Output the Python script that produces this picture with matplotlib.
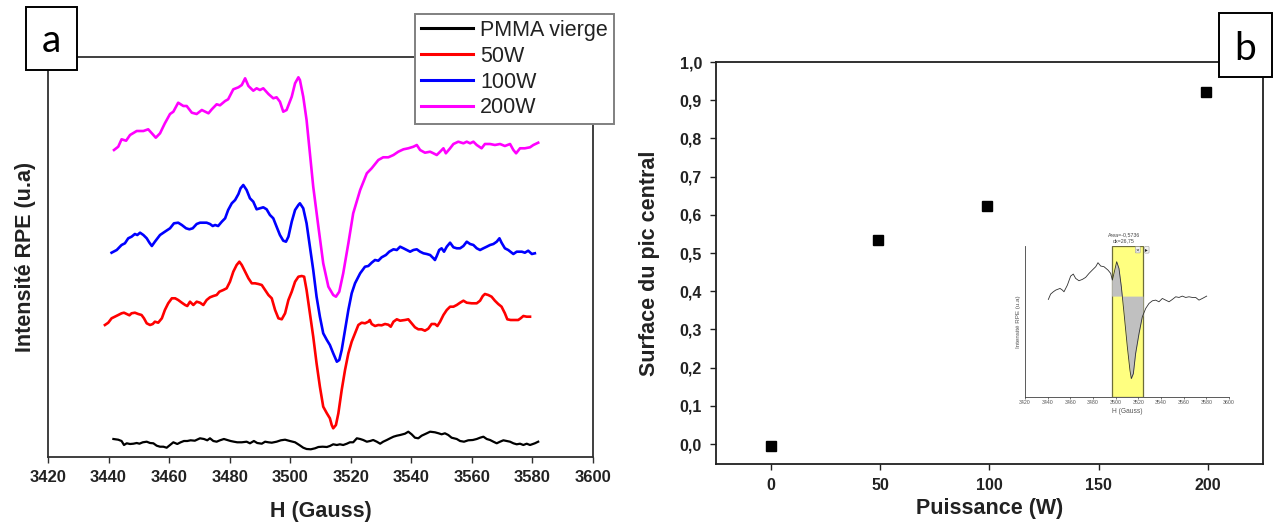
import numpy as np
import matplotlib
matplotlib.use("Agg")
import matplotlib.pyplot as plt
from matplotlib.patches import Rectangle

plt.rcParams['font.family'] = ['Liberation Sans', 'DejaVu Sans']

# ---------------- data: panel a (EPR spectra) ----------------
h200 = [3441.8, 3443.2, 3444.3, 3445.8, 3447.1, 3449.3, 3451.5, 3453.1, 3454.3, 3455.6,
        3457.0, 3458.6, 3460.3, 3461.4, 3463.0, 3464.7, 3465.8, 3467.5, 3469.1, 3470.8,
        3473.0, 3474.1, 3475.7, 3476.8, 3478.5, 3479.5, 3481.2, 3482.9, 3484.0, 3485.1,
        3486.2, 3487.8, 3488.9, 3490.0, 3491.1, 3492.8, 3494.4, 3495.5, 3496.6, 3497.7,
        3498.8, 3500.5, 3501.6, 3502.7, 3503.2, 3504.3, 3505.4, 3506.5, 3507.6, 3509.3,
        3510.9, 3512.6, 3514.2, 3515.1, 3516.2, 3517.5, 3519.2, 3520.8, 3523.1, 3525.3,
        3526.9, 3529.1, 3530.7, 3532.4, 3534.1, 3535.7, 3537.4, 3539.0, 3540.7, 3541.8,
        3542.9, 3544.5, 3546.2, 3547.3, 3548.4, 3549.5, 3550.6, 3551.4, 3552.8, 3553.9,
        3555.5, 3557.2, 3558.3, 3559.4, 3560.5, 3561.6, 3563.2, 3564.3, 3566.0, 3567.6,
        3569.3, 3570.9, 3572.6, 3573.7, 3574.6, 3575.9, 3577.5, 3579.2, 3580.3, 3581.9]
i200 = [307, 310.3, 317.7, 316.3, 322, 326, 326, 327.7, 323.7, 319.3,
        323.7, 333.7, 343, 345.3, 354.3, 351, 351, 344.3, 343, 347,
        343.7, 347.7, 352.7, 351.7, 356, 357.7, 367.7, 369.7, 372, 378.7,
        371, 366.3, 368.7, 367, 368.7, 363, 358.7, 359.7, 355.3, 345.3,
        347, 360.3, 373.7, 379.7, 377, 360.3, 337, 303.7, 270.3, 230.3,
        193.7, 170.3, 162, 160.3, 165.3, 183.7, 213.7, 243.7, 267, 283.7,
        288.7, 297, 299.7, 299.7, 302, 305.3, 307.7, 308.7, 310.3, 312,
        307, 304.3, 305.3, 303.7, 302, 305.3, 308.7, 303.7, 308.7, 313,
        315.3, 313.7, 315.3, 313.7, 315.3, 312, 308.7, 313, 313, 312,
        313, 311, 313, 307, 303.7, 308.7, 308.7, 309.7, 312, 314.3]

h100 = [3441.0, 3442.7, 3444.3, 3445.4, 3446.5, 3447.6, 3448.7, 3449.5, 3450.4, 3451.5,
        3452.6, 3453.5, 3454.3, 3455.3, 3457.0, 3458.6, 3460.3, 3461.6, 3463.0, 3464.2,
        3465.6, 3466.7, 3467.8, 3469.1, 3470.2, 3472.4, 3473.5, 3474.4, 3475.2, 3476.2,
        3477.4, 3478.5, 3479.5, 3480.7, 3481.8, 3482.9, 3483.6, 3484.5, 3485.6, 3486.7,
        3487.8, 3488.9, 3490.0, 3491.1, 3492.2, 3493.3, 3494.4, 3495.5, 3496.6, 3497.7,
        3498.6, 3499.4, 3500.5, 3501.6, 3502.7, 3503.2, 3504.3, 3505.4, 3506.5, 3507.6,
        3508.7, 3509.8, 3510.9, 3512.1, 3513.1, 3514.2, 3515.4, 3516.2, 3517.0, 3518.1,
        3519.2, 3520.3, 3521.4, 3523.1, 3524.7, 3525.8, 3526.9, 3528.0, 3529.1, 3530.2,
        3531.6, 3532.7, 3534.1, 3535.2, 3536.3, 3537.4, 3538.5, 3539.6, 3540.7, 3541.8,
        3542.9, 3544.0, 3545.1, 3546.2, 3547.3, 3547.8, 3548.4, 3549.2, 3550.0, 3550.8,
        3551.7, 3552.8, 3553.9, 3555.0, 3556.1, 3557.2, 3558.3, 3559.4, 3560.5, 3561.6,
        3562.7, 3563.8, 3564.9, 3566.0, 3567.1, 3568.2, 3569.1, 3569.8, 3570.9, 3572.0,
        3573.7, 3574.8, 3576.5, 3577.5, 3578.6, 3579.8, 3580.8]
i100 = [204.3, 207, 212, 213.7, 218.7, 220.3, 223, 222, 224.3, 222,
        218.7, 214.3, 211, 215.3, 222, 225.3, 228.7, 233.7, 234.3, 232,
        228.7, 227.7, 228.7, 233, 234.3, 234.3, 233, 231, 232, 231,
        235.3, 238.7, 247, 253.7, 257, 263, 268.7, 272, 267, 258.7,
        255.3, 247.7, 248.7, 249.7, 247.7, 242, 238.7, 230.3, 222, 216.3,
        215.3, 220.3, 235.3, 247, 252, 253.7, 248.7, 233.7, 210.3, 187,
        160.3, 140.3, 123.7, 117, 112, 103.7, 95.3, 97, 107, 127,
        147, 163.7, 173.7, 183.7, 190.3, 191, 194.3, 197, 196.3, 199.7,
        202, 205.3, 207.7, 207, 210.3, 208.7, 207, 205.3, 207, 207.7,
        205.3, 203.7, 203, 202, 198.7, 197, 201, 207, 208.7, 205.3,
        210.3, 214.3, 209.7, 208.7, 208.7, 211, 215.3, 213, 212, 208.7,
        207, 208.7, 210.3, 212, 213, 215.3, 218.7, 214.3, 208.7, 207,
        203, 205.3, 205.3, 204.3, 206.3, 203, 203.7]

h50 = [3438.8, 3439.9, 3441.0, 3442.1, 3443.2, 3444.3, 3445.1, 3446.0, 3446.9, 3447.6,
       3448.7, 3449.8, 3450.9, 3451.7, 3452.6, 3453.7, 3454.6, 3455.3, 3456.4, 3457.6,
       3458.6, 3459.7, 3460.9, 3462.0, 3463.0, 3464.2, 3465.3, 3466.0, 3466.9, 3468.0,
       3469.1, 3470.2, 3471.3, 3472.4, 3473.5, 3474.6, 3475.7, 3476.6, 3477.9, 3479.0,
       3480.1, 3481.2, 3482.3, 3483.2, 3484.0, 3485.1, 3486.2, 3487.3, 3488.4, 3489.5,
       3490.6, 3491.7, 3492.8, 3493.9, 3495.0, 3496.1, 3497.2, 3498.3, 3499.4, 3500.5,
       3501.6, 3502.7, 3503.8, 3504.6, 3505.4, 3506.5, 3507.6, 3508.7, 3509.8, 3510.9,
       3512.1, 3513.1, 3513.7, 3514.2, 3515.1, 3515.9, 3517.0, 3518.1, 3519.2, 3520.3,
       3521.4, 3522.5, 3523.6, 3524.7, 3525.8, 3526.3, 3526.9, 3528.0, 3529.1, 3530.2,
       3531.3, 3532.4, 3533.2, 3534.1, 3535.2, 3536.3, 3537.9, 3539.0, 3540.1, 3541.2,
       3542.3, 3543.4, 3544.5, 3545.6, 3546.7, 3547.8, 3548.6, 3549.5, 3550.6, 3551.7,
       3552.8, 3553.9, 3555.0, 3556.1, 3557.2, 3558.3, 3559.9, 3561.6, 3562.7, 3563.6,
       3564.3, 3565.4, 3566.5, 3567.6, 3568.7, 3569.8, 3570.9, 3571.7, 3572.8, 3574.2,
       3575.3, 3576.1, 3577.0, 3578.1, 3579.2]
i50 = [132, 134.3, 138.7, 140.3, 142, 143.7, 144.3, 143, 141.7, 143.7,
       144.3, 143, 142, 138.7, 133.7, 132, 133, 135.3, 134.3, 138.7,
       147, 153.7, 158.7, 158.7, 157, 154.3, 152, 151, 155.3, 152,
       155.3, 154.3, 152, 157, 159.7, 161, 162, 165.3, 167, 168.7,
       175.3, 185.3, 192, 195.3, 192, 185.3, 178.7, 173.7, 173.7, 173,
       172, 167, 162, 158.7, 147, 138.7, 137.7, 143.7, 157, 165.3,
       175.3, 180.3, 181, 180.3, 167, 143.7, 120.3, 93.7, 70.3, 50.3,
       43.7, 38.7, 32, 28.7, 32, 43.7, 67, 87, 103.7, 115.3,
       123.7, 132, 134.3, 133.7, 135.3, 137, 133, 131, 132, 131.7,
       133, 132.3, 130.3, 135.3, 137.7, 136.3, 137, 137.7, 133.7, 129.7,
       127.7, 127.7, 126.3, 128.3, 133, 133, 131, 135.3, 142, 147,
       150.3, 150.3, 152, 154.3, 156.3, 154.3, 153.7, 153.7, 156.3, 161,
       163, 162, 160.3, 156.3, 153, 150.3, 143.7, 137.7, 137, 137,
       137, 138.7, 141, 140.3, 140.3]

h0 = [3441.6, 3443.2, 3444.3, 3445.1, 3446.0, 3447.1, 3448.2, 3449.3, 3450.2, 3451.3,
      3452.6, 3453.7, 3454.8, 3455.9, 3457.0, 3458.1, 3459.2, 3460.3, 3461.4, 3462.7,
      3463.8, 3464.9, 3466.0, 3467.1, 3468.5, 3470.2, 3471.5, 3472.6, 3473.5, 3474.6,
      3475.7, 3476.8, 3478.1, 3479.2, 3480.3, 3481.4, 3482.5, 3484.0, 3485.6, 3486.7,
      3488.0, 3489.1, 3490.6, 3491.7, 3492.8, 3493.9, 3495.5, 3496.9, 3498.3, 3499.9,
      3501.6, 3503.0, 3504.3, 3505.4, 3506.8, 3508.2, 3509.3, 3510.7, 3512.1, 3513.1,
      3514.2, 3515.4, 3516.4, 3517.5, 3518.7, 3519.7, 3520.8, 3522.0, 3523.1, 3524.1,
      3525.3, 3526.4, 3527.4, 3528.6, 3529.7, 3530.7, 3531.9, 3533.0, 3534.1, 3535.2,
      3536.3, 3537.9, 3539.0, 3540.1, 3541.2, 3542.3, 3543.4, 3545.1, 3546.2, 3547.8,
      3549.0, 3550.0, 3551.1, 3552.2, 3553.3, 3555.0, 3556.1, 3557.4, 3558.8, 3560.3,
      3561.6, 3562.7, 3563.8, 3564.9, 3566.0, 3567.1, 3568.2, 3569.3, 3570.4, 3571.5,
      3572.6, 3573.7, 3574.8, 3575.9, 3577.0, 3578.1, 3579.2, 3580.8, 3581.9]
i0 = [18, 17.3, 16, 12, 13.7, 13, 13.3, 14, 13.3, 14.7,
      15.3, 14, 13.7, 11.3, 10.3, 10.3, 9.3, 12, 14.7, 13,
      14.7, 16, 16, 16.7, 16.3, 18.7, 18, 16.7, 18.7, 16,
      15.3, 16.7, 18, 17, 16, 15.3, 14.7, 14.7, 15.3, 13.7,
      16, 14, 13.3, 15.3, 14.7, 14.3, 15.3, 16.7, 17.3, 16,
      14.7, 12, 9.3, 8, 7.7, 8.7, 10, 10.3, 10, 11,
      12.7, 12, 12.7, 12, 13.3, 14.7, 14.7, 18.7, 18, 17,
      15.3, 16, 17, 15.3, 13.3, 15.3, 17, 18.7, 20.3, 21.3,
      22, 23.3, 25.3, 22.7, 19.3, 18.7, 21.3, 23.7, 25.3, 24.7,
      23.7, 22.7, 23.7, 22, 19.3, 18, 16, 15.3, 16.7, 17,
      18, 19.3, 20.3, 18, 17, 15.3, 13.7, 15.3, 16.7, 16,
      15.3, 13.7, 12.7, 13.3, 12, 13.3, 12, 13.7, 15.3]

series_labels = ["PMMA vierge", "50W", "100W", "200W"]
series_colors = ["#000000", "#ff0000", "#0000ff", "#ff00ff"]
h_ticks = [3420, 3440, 3460, 3480, 3500, 3520, 3540, 3560, 3580, 3600]

# ---------------- data: panel b ----------------
power = [0, 49, 99, 199]
surface = [-0.005, 0.535, 0.623, 0.921]
p_ticks = [0, 50, 100, 150, 200]
s_ticks = [0.0, 0.1, 0.2, 0.3, 0.4, 0.5, 0.6, 0.7, 0.8, 0.9, 1.0]
s_ticklabels = ["0,0", "0,1", "0,2", "0,3", "0,4", "0,5", "0,6", "0,7", "0,8", "0,9", "1,0"]

# ---------------- data: inset (area integration screenshot) ----------------
h_in = [3440.6, 3442.6, 3445.0, 3447.1, 3450.9, 3453.0, 3454.4, 3457.4, 3460.3, 3462.6,
        3464.7, 3467.6, 3470.6, 3473.5, 3476.5, 3479.4, 3482.4, 3484.4, 3486.8, 3489.7,
        3493.2, 3495.6, 3497.1, 3498.5, 3500.9, 3502.9, 3505.0, 3507.4, 3510.3, 3512.6,
        3513.8, 3515.6, 3517.6, 3520.6, 3523.5, 3526.5, 3529.4, 3532.4, 3535.3, 3538.2,
        3541.2, 3544.1, 3547.1, 3550.0, 3553.0, 3555.9, 3558.8, 3561.8, 3564.7, 3567.6,
        3570.6, 3573.5, 3576.5, 3580.3]
i_in = [292, 308, 315, 320, 325, 320, 315, 335, 362, 368,
        355, 348, 352, 358, 370, 380, 390, 402, 392, 390,
        380, 370, 350, 370, 405, 385, 330, 250, 150, 80,
        55, 70, 130, 190, 240, 265, 280, 288, 290, 285,
        295, 290, 285, 292, 300, 298, 302, 298, 300, 298,
        298, 290, 295, 302]
in_span = (3496.5, 3524.1)
in_baseline = 302
in_ticks = [3420, 3440, 3460, 3480, 3500, 3520, 3540, 3560, 3580, 3600]

W, H = 1277, 524
fig = plt.figure(figsize=(W / 100, H / 100), dpi=100)

# ================= panel a =================
ax1 = fig.add_axes([48 / W, 1 - 457 / H, 545 / W, 400 / H])
for hx, iy, lab, col in zip([h0, h50, h100, h200], [i0, i50, i100, i200],
                            series_labels, series_colors):
    ax1.plot(hx, iy, color=col, lw=1.9 if col != "#000000" else 1.6, label=lab)
ax1.set_xlim(3420, 3600)
ax1.set_ylim(0, 400)
ax1.set_xticks(h_ticks)
ax1.set_yticks([])
for s in ax1.spines.values():
    s.set_linewidth(1.3)
    s.set_color("#303030")
ax1.tick_params(axis='x', direction='out', length=4, width=1.0, color="#303030",
                labelsize=12, pad=5, labelcolor="#222222")
for lbl in ax1.get_xticklabels():
    lbl.set_fontweight('bold')
ax1.set_xlabel("H (Gauss)", fontsize=15.5, fontweight='bold', labelpad=12, color="#222222")
ax1.set_ylabel("Intensité RPE (u.a)", fontsize=15.5, fontweight='bold', labelpad=9,
               color="#222222")
leg = ax1.legend(loc='upper left', bbox_to_anchor=(415 / W, 1 - 14 / H),
                 bbox_transform=fig.transFigure, fontsize=15.5, frameon=True,
                 fancybox=False, framealpha=1, edgecolor="#808080",
                 handlelength=2.4, handletextpad=0.35, labelspacing=0.22,
                 borderpad=0.28, borderaxespad=0)
leg.get_frame().set_linewidth(1.4)
for t in leg.get_texts():
    t.set_color("#222222")
for ln in leg.get_lines():
    ln.set_linewidth(2.2)

# ================= panel b =================
ax2 = fig.add_axes([716 / W, 1 - 464 / H, 547 / W, 402 / H])
ax2.plot(power, surface, linestyle='none', marker='s', markersize=7,
         color='black')
ax2.set_xlim(-25, 225)
ax2.set_ylim(-0.052, 1.0)
ax2.set_xticks(p_ticks)
ax2.set_yticks(s_ticks)
ax2.set_yticklabels(s_ticklabels)
for s in ax2.spines.values():
    s.set_linewidth(1.3)
    s.set_color("#202020")
ax2.tick_params(axis='both', direction='out', length=4, width=1.0, color="#202020",
                labelsize=11.5, pad=6, labelcolor="#222222")
for lbl in ax2.get_xticklabels() + ax2.get_yticklabels():
    lbl.set_fontweight('bold')
ax2.set_xlabel("Puissance (W)", fontsize=15.5, fontweight='bold', labelpad=4,
               color="#222222")
ax2.set_ylabel("Surface du pic central", fontsize=15.5, fontweight='bold', labelpad=14,
               color="#222222")

# ================= inset =================
ax3 = fig.add_axes([1025 / W, 1 - 397 / H, 204 / W, 151 / H])
ax3.set_xlim(3420, 3600)
ax3.set_ylim(0, 452)
ax3.axvspan(in_span[0], in_span[1], facecolor="#ffff80", edgecolor="#6d6d3a",
            linewidth=0.9, zorder=1)
grid = np.linspace(in_span[0], in_span[1], 300)
ax3.fill_between(grid, np.interp(grid, h_in, i_in), in_baseline, color="#c0c0c0",
                 linewidth=0, zorder=2)
ax3.plot(h_in, i_in, color="#303030", lw=0.6, zorder=3)
ax3.set_xticks(in_ticks)
ax3.set_yticks([])
for side in ("top", "right"):
    ax3.spines[side].set_visible(False)
for side in ("left", "bottom"):
    ax3.spines[side].set_linewidth(0.6)
    ax3.spines[side].set_color("#404040")
ax3.tick_params(axis='x', direction='out', length=1.5, width=0.5, labelsize=3.8,
                pad=1, labelcolor="#555555", color="#404040")
ax3.set_xlabel("H (Gauss)", fontsize=4.8, labelpad=2, color="#555555")
ax3.set_ylabel("Intensité RPE (u.a)", fontsize=4.5, labelpad=3, color="#555555")
ax3.patch.set_alpha(0)
tr = ax3.get_xaxis_transform()
mid = 0.5 * (in_span[0] + in_span[1]) - 3
ax3.text(mid, 1.075, "Area=-0,5736", fontsize=3.8, ha='center', va='center',
         color="#444444", transform=tr)
ax3.text(mid, 1.035, "dx=26,75", fontsize=3.8, ha='center', va='center',
         color="#444444", transform=tr)
ax3.text(3519.5, 0.975, "×", fontsize=4.5, ha='center', va='center', color="#222222",
         transform=tr, bbox=dict(boxstyle='round,pad=0.1', fc="#f2f2f2", ec="#999999",
                                  lw=0.4), zorder=5)
ax3.text(3527.5, 0.975, "▸", fontsize=4, ha='center', va='center', color="#222222",
         transform=tr, bbox=dict(boxstyle='round,pad=0.15', fc="#f2f2f2", ec="#999999",
                                  lw=0.4), zorder=5)

# ================= panel letters =================
for (x0, y0, x1, y1), letter, bx, by in [((26, 7, 77, 70), "a", 51.5, 52),
                                         ((1219, 13, 1272, 77), "b", 1245.5, 60)]:
    fig.patches.append(Rectangle((x0 / W, 1 - y1 / H), (x1 - x0) / W, (y1 - y0) / H,
                                 transform=fig.transFigure, facecolor='white',
                                 edgecolor='black', linewidth=1.4, zorder=10))
    fig.text(bx / W, 1 - by / H, letter, fontsize=28, family=['Lato', 'DejaVu Sans'],
             ha='center', va='baseline', zorder=11)

fig.savefig("out.png", dpi=100)
